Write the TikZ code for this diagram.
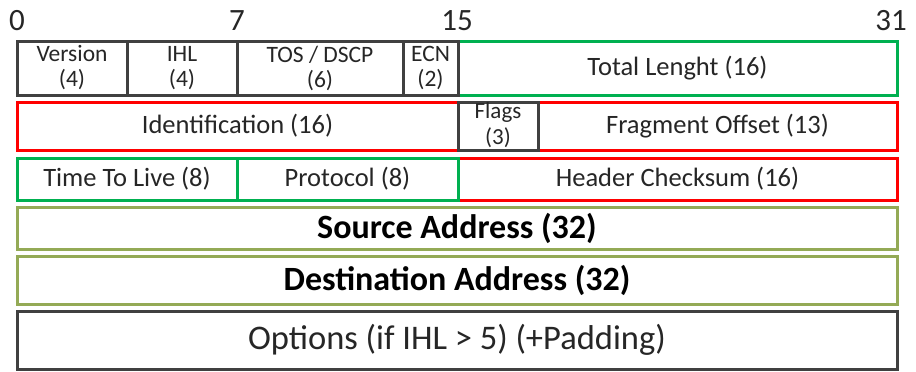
\documentclass[tikz,border=0pt]{standalone}
\usepackage{fontspec}
\setmainfont{Carlito}
\definecolor{cgrey}{HTML}{404040}
\definecolor{cred}{HTML}{FF0000}
\definecolor{cgreen}{HTML}{00B050}
\definecolor{colive}{HTML}{94AA56}
\definecolor{ctext}{HTML}{262626}
\begin{document}
\begin{tikzpicture}[x=1pt,y=-1pt,
  cell/.style={rectangle, line width=3pt, outer sep=0pt, inner sep=0pt, anchor=north west, align=center, text=ctext, fill=white},
  greycell/.style={cell, draw=cgrey},
  redcell/.style={cell, draw=cred},
  greencell/.style={cell, draw=cgreen},
  olivecell/.style={cell, draw=colive},
  small/.style={font=\fontsize{23.5}{25}\selectfont},
  mid/.style={font=\fontsize{26.5}{30}\selectfont},
  big/.style={font=\fontsize{34.5}{38}\selectfont},
  bigbold/.style={font=\fontsize{34}{38}\selectfont\bfseries, text=black},
  bitnum/.style={font=\fontsize{31}{32}\selectfont, text=ctext, inner sep=0pt, anchor=base}
]
\useasboundingbox (0,0) rectangle (916,372);

% bit numbers
\node[bitnum] (b0) at (17,30) {0};
\node[bitnum] (b7) at (237,30) {7};
\node[bitnum] (b15) at (457,30) {15};
\node[bitnum] (b31) at (891,30) {31};

% red cells (drawn first)
\node[redcell, mid, minimum width=441pt, minimum height=48pt] (ident) at (17,102) {Identification (16)};
\node[redcell, mid, minimum width=359pt, minimum height=48pt] (frag) at (538,102) {Fragment Offset (13)};
\node[redcell, mid, minimum width=439pt, minimum height=42pt] (hcs) at (458,158) {Header Checksum (16)};

% green cells
\node[greencell, mid, minimum width=439pt, minimum height=54pt] (total) at (458,41) {Total Lenght (16)};
\node[greencell, mid, minimum width=220pt, minimum height=42pt] (ttl) at (17,158) {Time To Live (8)};
\node[greencell, mid, minimum width=221pt, minimum height=42pt] (proto) at (237,158) {Protocol (8)};

% olive cells
\node[olivecell, bigbold, minimum width=880pt, minimum height=42pt] (src) at (17,207) {Source Address (32)};
\node[olivecell, bigbold, minimum width=880pt, minimum height=48pt] (dst) at (17,256) {Destination Address (32)};

% grey cells
\node[greycell, small, minimum width=110pt, minimum height=54pt] (ver) at (17,41) {Version\\(4)};
\node[greycell, small, minimum width=110pt, minimum height=54pt] (ihl) at (127,41) {IHL\\(4)};
\node[greycell, small, minimum width=166pt, minimum height=54pt] (tos) at (237,41) {TOS / DSCP\\(6)};
\node[greycell, small, minimum width=55pt, minimum height=54pt] (ecn) at (403,41) {ECN\\(2)};
\node[greycell, minimum width=80pt, minimum height=48pt, fill=none] (flags) at (458,102) {};
\node[font=\fontsize{23}{26}\selectfont, text=ctext, align=center, inner sep=0pt] (flagstxt) at ([yshift=1pt]flags.center) {Flags\\(3)};
\node[greycell, big, minimum width=880pt, minimum height=58pt] (opt) at (17,311) {Options (if IHL \textgreater{} 5) (+Padding)};
\end{tikzpicture}
\end{document}
